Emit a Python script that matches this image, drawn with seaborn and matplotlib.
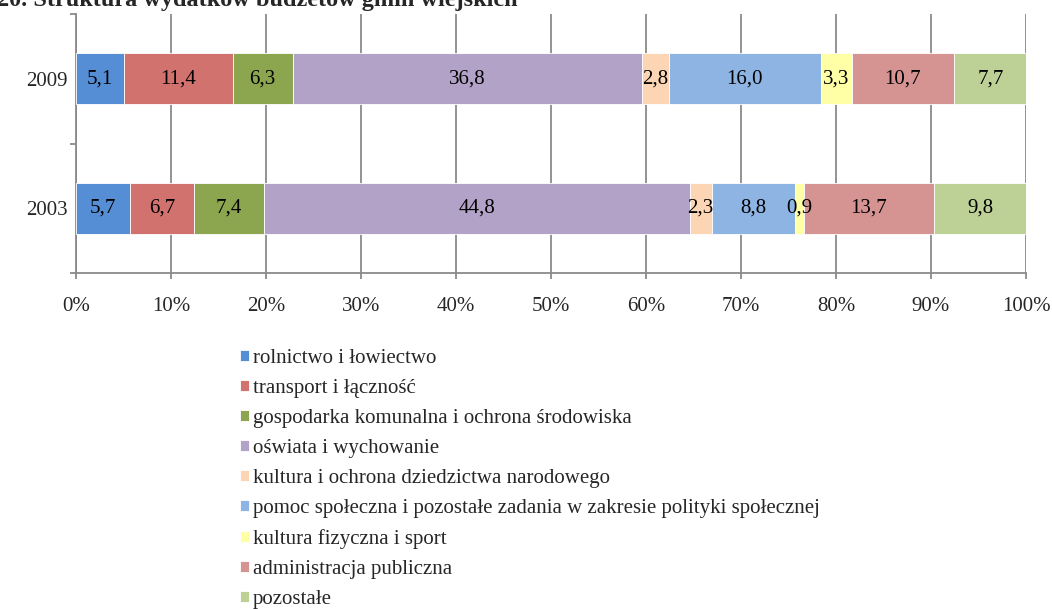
import matplotlib
matplotlib.use("Agg")
import matplotlib.pyplot as plt
from matplotlib.ticker import FuncFormatter, FixedLocator
import numpy as np
import pandas as pd
import seaborn as sns

years = ["2009", "2003"]
categories = [
    "rolnictwo i łowiectwo",
    "transport i łączność",
    "gospodarka komunalna i ochrona środowiska",
    "oświata i wychowanie",
    "kultura i ochrona dziedzictwa narodowego",
    "pomoc społeczna i pozostałe zadania w zakresie polityki społecznej",
    "kultura fizyczna i sport",
    "administracja publiczna",
    "pozostałe",
]
values_2009 = [5.1, 11.4, 6.3, 36.8, 2.8, 16.0, 3.3, 10.7, 7.7]
values_2003 = [5.7, 6.7, 7.4, 44.8, 2.3, 8.8, 0.9, 13.7, 9.8]
colors = ["#558ED5", "#D2726F", "#8CA64F", "#B3A2C7", "#FCD5B5",
          "#8EB4E3", "#FFFFA6", "#D59392", "#BDD197"]
title = "20. Struktura wydatków budżetów gmin wiejskich"

sns.set_theme(style="white")
plt.rcParams["font.family"] = ["Liberation Serif", "DejaVu Serif"]
FS = 15

fig = plt.figure(figsize=(10.52, 6.09), dpi=100)
ax = fig.add_axes([76 / 1052, 1 - 273 / 609, 950 / 1052, 259 / 609])

values = np.array([values_2009, values_2003])
lefts = np.cumsum(values, axis=1) - values

for i, cat in enumerate(categories):
    df = pd.DataFrame({"rok": years, "udzial": values[:, i]})
    sns.barplot(data=df, x="udzial", y="rok", order=years, orient="h",
                color=colors[i], saturation=1, width=0.39,
                left=lefts[:, i], edgecolor="white", linewidth=0.6,
                label=cat, ax=ax, zorder=3)
    for j in range(len(years)):
        v = values[j, i]
        ax.text(lefts[j, i] + v / 2, j, f"{v:.1f}".replace(".", ","),
                ha="center", va="center", fontsize=FS, color="black", zorder=4)

handles, labels = ax.get_legend_handles_labels()
if ax.get_legend() is not None:
    ax.get_legend().remove()

ax.set_xlim(0, 100)
ax.set_ylim(1.5, -0.5)
ax.set_xlabel("")
ax.set_ylabel("")

grid_color = "#8A8A8A"
ax.set_xticks(np.arange(0, 101, 10))
ax.xaxis.set_major_formatter(FuncFormatter(lambda x, p: f"{int(round(x))}%"))
ax.xaxis.grid(True, color=grid_color, linewidth=1.3)
ax.yaxis.grid(False)
ax.set_axisbelow(True)

ax.set_yticks([0, 1])
ax.set_yticklabels(years)
ax.yaxis.set_minor_locator(FixedLocator([-0.5, 0.5, 1.5]))
ax.tick_params(axis="y", which="major", length=0, pad=6, labelsize=FS)
ax.tick_params(axis="y", which="minor", length=4.5, width=1.3, color=grid_color, left=True)
ax.tick_params(axis="x", which="major", length=4.5, width=1.3, color=grid_color,
               bottom=True, pad=13, labelsize=FS)

for side in ["top", "right"]:
    ax.spines[side].set_visible(False)
for side in ["left", "bottom"]:
    ax.spines[side].set_color(grid_color)
    ax.spines[side].set_linewidth(1.3)

fig.legend(handles, labels, loc="upper left", bbox_to_anchor=(240 / 1052, 1 - 349 / 609),
           frameon=False, fontsize=FS, handlelength=0.42, handleheight=0.42,
           handletextpad=0.2, labelspacing=0.53, borderpad=0, borderaxespad=0)

fig.text(-3 / 1052, 1 - 6 / 609, title, ha="left", va="baseline",
         fontsize=17.5, fontweight="bold")

fig.savefig("out.png", dpi=100)
